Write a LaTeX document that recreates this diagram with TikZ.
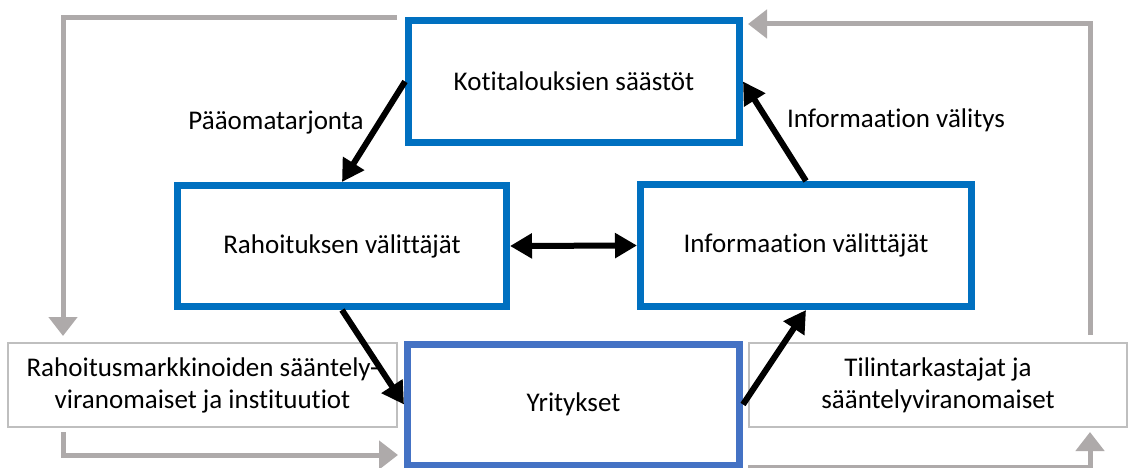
\documentclass[tikz,border=0pt]{standalone}
\usepackage{fontspec}
\setmainfont{Carlito}[Ligatures=NoCommon]
\usetikzlibrary{arrows.meta,positioning,calc}
\definecolor{BoxBlue}{RGB}{0,112,192}
\definecolor{FirmBlue}{RGB}{68,114,196}
\definecolor{LoopGray}{RGB}{174,170,170}
\definecolor{FrameGray}{RGB}{191,191,191}

\begin{document}
\begin{tikzpicture}[x=1pt,y=-1pt,
  bluebox/.style={draw=BoxBlue,line width=7pt,minimum width=331pt,minimum height=121pt,font=\fontsize{27}{32}\selectfont},
  graybox/.style={draw=FrameGray,line width=2pt,minimum height=84pt,align=center,font=\fontsize{27}{32}\selectfont},
  flow/.style={line width=6pt,-{Triangle[length=22pt,width=24pt]}},
  loopline/.style={draw=LoopGray,line width=5pt,-{Triangle[length=19pt,width=28pt]}},
  lbl/.style={font=\fontsize{27}{32}\selectfont}]
\useasboundingbox(0,0)rectangle(1129,468);
% main boxes
\node[bluebox](koti)at(574,81.5){Kotitalouksien säästöt};
\node[bluebox,minimum width=329pt](fin)at(342,246){Rahoituksen välittäjät};
\node[bluebox,minimum height=122pt](inf)at(806,245.5){Informaation välittäjät};
\node[bluebox,draw=FirmBlue,minimum width=332pt](yrit)at(573.5,404.5){Yritykset};
% side boxes
\node[graybox,minimum width=389pt](reg)at(202.5,385){Rahoitusmarkkinoiden sääntely-\\viranomaiset ja instituutiot};
\node[graybox,minimum width=378pt](aud)at(938,385){Tilintarkastajat ja\\sääntelyviranomaiset};
% labels
\node[lbl](lblcap)at(276,123){Pääomatarjonta};
\node[lbl](lblinfo)at(896,120){Informaation välitys};
% black arrows
\draw[flow](koti.west)--(fin.north);
\draw[flow](inf.north)--(koti.east);
\draw[flow,{Triangle[length=22pt,width=24pt]}-{Triangle[length=22pt,width=24pt]}](fin.east)--(inf.west);
\draw[flow](fin.south)--(yrit.west);
\draw[flow](yrit.east)--(inf.south);
% gray loops
\draw[loopline]([xshift=-8pt]koti.north west)-|([xshift=56pt,yshift=6pt]reg.north west);
\draw[loopline]([xshift=56pt,yshift=-4pt]reg.south west)|-([xshift=-6pt,yshift=-50.5pt]yrit.west);
\draw[loopline]([xshift=-38pt,yshift=7pt]aud.north east)|-([xshift=5pt,yshift=-6.5pt]koti.north east);
\draw[loopline]([xshift=5pt,yshift=-62.5pt]yrit.east)-|([xshift=-38pt,yshift=-4pt]aud.south east);
\end{tikzpicture}
\end{document}
